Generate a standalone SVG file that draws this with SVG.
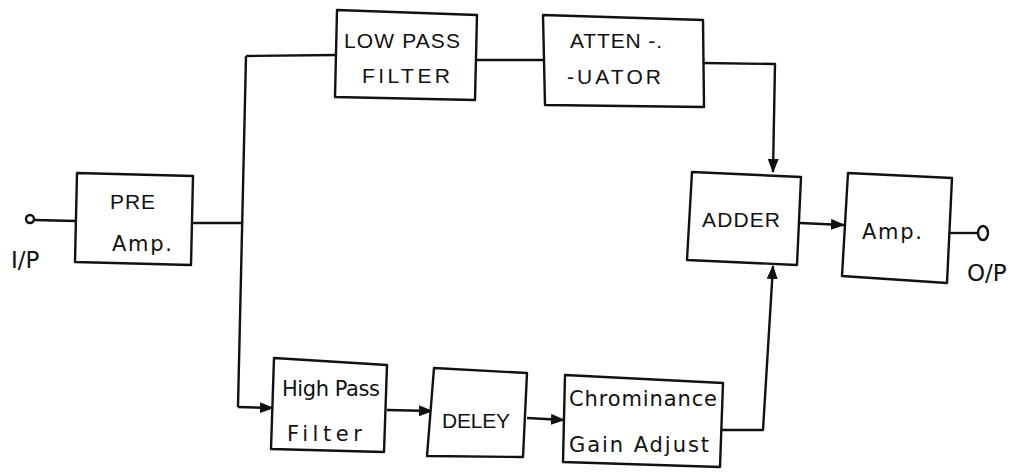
<svg xmlns="http://www.w3.org/2000/svg" width="1023" height="475" viewBox="0 0 1023 475">
<style>
.box{fill:#fff;stroke:#111;stroke-width:2.4;stroke-linejoin:round}
.ln{fill:none;stroke:#111;stroke-width:2.4;stroke-linejoin:round}
.t{font-family:"Liberation Sans",Arial,sans-serif;font-size:21px;fill:#111}
.h{font-family:"DejaVu Sans","Liberation Sans",sans-serif;font-size:21px;fill:#111}
.io{font-family:"DejaVu Sans","Liberation Sans",sans-serif;font-size:23px;fill:#111}
</style>
<defs>
<marker id="ar" viewBox="0 0 14 11" refX="13" refY="5.5" markerWidth="14" markerHeight="11" markerUnits="userSpaceOnUse" orient="auto">
<path d="M0,0 L14,5.5 L0,11 Z" fill="#111"/>
</marker>
</defs>
<rect width="1023" height="475" fill="#fff"/>
<g id="connectors">
<circle cx="30" cy="219" r="4" class="ln"/>
<path class="ln" d="M34,220 L76,221"/>
<path class="ln" d="M192,223 L243,223"/>
<path class="ln" d="M246,56 L238,407"/>
<path class="ln" d="M246,56 L337,55"/>
<path class="ln" d="M477,60 L543,60"/>
<path class="ln" d="M703,63 L775,64 L773,172" marker-end="url(#ar)"/>
<path class="ln" d="M238,407 L273,408" marker-end="url(#ar)"/>
<path class="ln" d="M387,410 L432,411" marker-end="url(#ar)"/>
<path class="ln" d="M527,418 L564,420" marker-end="url(#ar)"/>
<path class="ln" d="M720,430 L763,430 L773,266" marker-end="url(#ar)"/>
<path class="ln" d="M800,223 L844,225" marker-end="url(#ar)"/>
<path class="ln" d="M950,233 L978,233"/>
<ellipse cx="983" cy="233" rx="5" ry="7" class="ln"/>
</g>
<g id="preamp">
<path class="box" d="M77,173 L193,176 L191,265 L75,262 Z"/>
<text class="t" x="110" y="209" font-size="22" textLength="45">PRE</text>
<text class="h" x="112" y="251" font-size="23" textLength="60">Amp.</text>
</g>
<g id="ip-label"><text class="io" x="11" y="268">I/P</text></g>
<g id="lowpass">
<path class="box" d="M337,10 L477,15 L475,100 L335,97 Z"/>
<text class="t" x="344" y="48" textLength="116">LOW PASS</text>
<text class="t" x="362" y="83" textLength="88">FILTER</text>
</g>
<g id="attenuator">
<path class="box" d="M543,15 L703,20 L704,107 L545,105 Z"/>
<text class="t" x="570" y="48" textLength="92">ATTEN -.</text>
<text class="t" x="567" y="84" textLength="94">-UATOR</text>
</g>
<g id="adder">
<path class="box" d="M692,172 L801,177 L797,265 L687,260 Z"/>
<text class="t" x="702" y="227" font-size="22" textLength="78">ADDER</text>
</g>
<g id="amp">
<path class="box" d="M848,173 L952,178 L947,283 L842,276 Z"/>
<text class="h" x="862" y="239" font-size="23" textLength="60">Amp.</text>
</g>
<g id="op-label"><text class="io" x="967" y="281">O/P</text></g>
<g id="highpass">
<path class="box" d="M274,358 L387,365 L384,452 L271,449 Z"/>
<text class="h" x="282" y="396" font-size="20" textLength="98">High Pass</text>
<text class="h" x="287" y="441" font-size="22" textLength="75">Filter</text>
</g>
<g id="delay">
<path class="box" d="M434,368 L527,373 L523,457 L427,456 Z"/>
<text class="t" x="442" y="428" font-size="20" textLength="68">DELEY</text>
</g>
<g id="chroma">
<path class="box" d="M565,375 L723,383 L720,467 L563,462 Z"/>
<text class="h" x="569" y="406" textLength="148">Chrominance</text>
<text class="h" x="569" y="452" textLength="140">Gain Adjust</text>
</g>
</svg>
